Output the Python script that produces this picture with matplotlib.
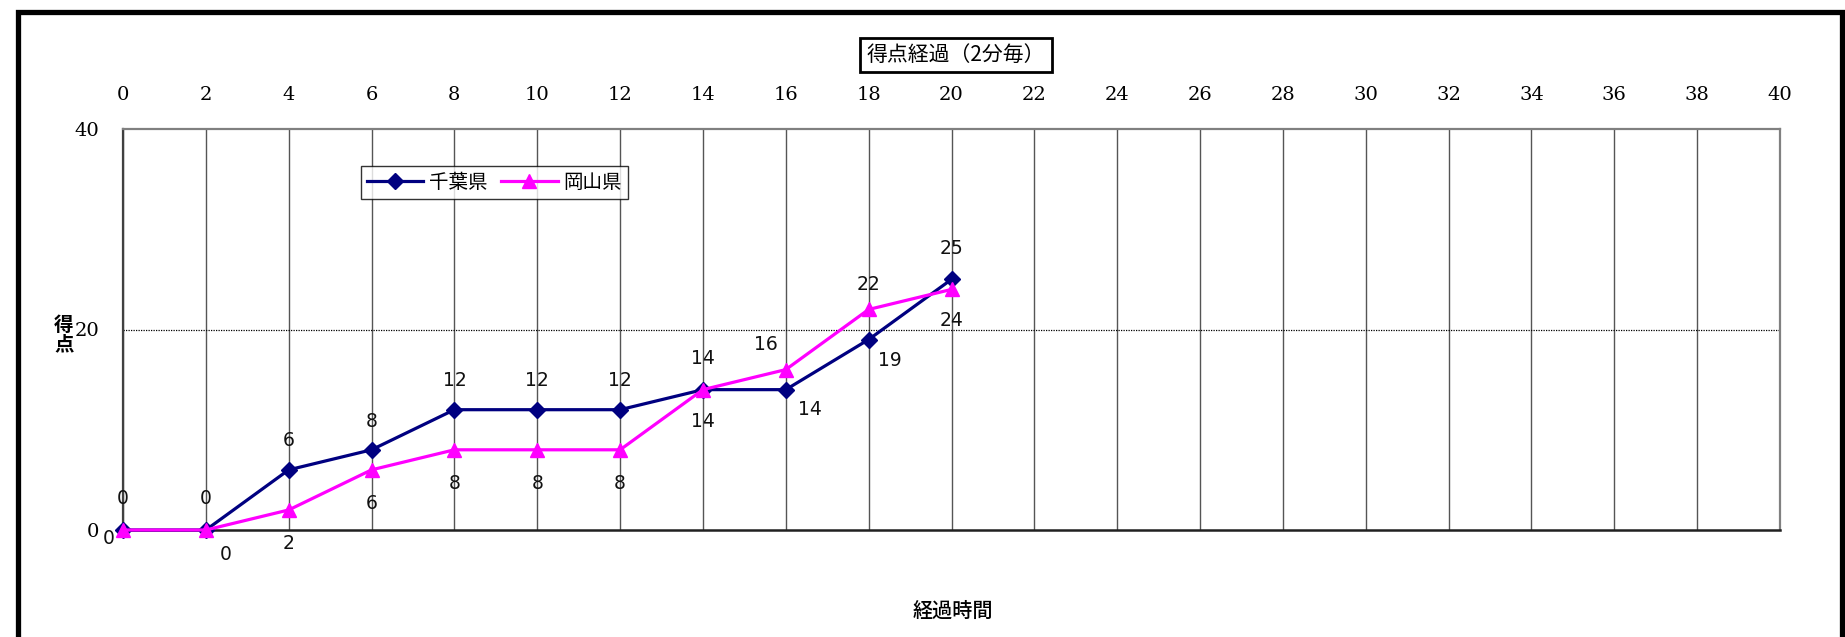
import matplotlib
matplotlib.use("Agg")
import matplotlib.pyplot as plt
from matplotlib.patches import Rectangle

# ---- data ----
minutes = [0, 2, 4, 6, 8, 10, 12, 14, 16, 18, 20]
chiba = [0, 0, 6, 8, 12, 12, 12, 14, 14, 19, 25]
okayama = [0, 0, 2, 6, 8, 8, 8, 14, 16, 22, 24]
series_names = ["千葉県", "岡山県"]
x_ticks = list(range(0, 41, 2))
y_ticks = [0, 20, 40]
title = "得点経過（2分毎）"
x_label = "経過時間"
y_label = "得\n点"

# label offsets (pixels) for data labels
chiba_off = [(0, 31), (0, 31), (0, 29), (0, 28), (0, 29), (0, 29), (0, 29),
             (0, 31), (24, -20), (21, -21), (0, 31)]
okayama_off = [(-14, -9), (20, -24), (0, -34), (0, -34), (0, -34), (0, -34),
               (0, -34), (0, -32), (-20, 25), (0, 25), (0, -31)]

CJK = ["Noto Sans CJK JP", "DejaVu Sans"]
W, H = 1845, 637
fig = plt.figure(figsize=(W / 100, H / 100), dpi=100)
fig.patch.set_facecolor("white")

# outer frame
fig.patches.append(Rectangle((18 / W, -0.2), (1842 - 18) / W, 1.2 - 12 / H,
                             transform=fig.transFigure, fill=False,
                             edgecolor="black", linewidth=3.8))

ax = fig.add_axes([123 / W, 1 - 530 / H, (1780 - 123) / W, (530 - 129) / H])
ax.set_xlim(0, 40)
ax.set_ylim(0, 40)

# grid
for xv in x_ticks:
    ax.axvline(xv, color="#555555", linewidth=1.0, zorder=1)
ax.axhline(20, color="black", linewidth=0.9, linestyle=(0, (1, 1)), zorder=1)

l1, = ax.plot(minutes, chiba, color="#000080", linewidth=2.3, marker="D",
              markersize=8.5, zorder=4, clip_on=False)
l2, = ax.plot(minutes, okayama, color="#FF00FF", linewidth=2.3, marker="^",
              markersize=10.5, zorder=5, clip_on=False)

lab_font = dict(family="DejaVu Sans", fontsize=13.5, color="#111111")
for xv, yv, off in zip(minutes, chiba, chiba_off):
    ax.annotate(str(yv), (xv, yv), xytext=off, textcoords="offset pixels",
                ha="center", va="center", zorder=6, **lab_font)
for xv, yv, off in zip(minutes, okayama, okayama_off):
    ax.annotate(str(yv), (xv, yv), xytext=off, textcoords="offset pixels",
                ha="center", va="center", zorder=6, **lab_font)

# axes styling
ax.xaxis.tick_top()
ax.set_xticks(x_ticks)
ax.set_yticks(y_ticks)
ax.tick_params(axis="x", length=0, pad=18, labelsize=14)
ax.tick_params(axis="y", length=0, pad=17, labelsize=14)
for lab in ax.get_xticklabels() + ax.get_yticklabels():
    lab.set_family("DejaVu Serif")
for side, col, lw in [("top", "#808080", 1.6), ("right", "#808080", 1.6),
                      ("left", "#404040", 1.6), ("bottom", "#202020", 1.8)]:
    ax.spines[side].set_color(col)
    ax.spines[side].set_linewidth(lw)

# title box
fig.text(956 / W, 1 - 55 / H, title, ha="center", va="center",
         fontsize=15, family=CJK,
         bbox=dict(boxstyle="square,pad=0.3", facecolor="white",
                   edgecolor="black", linewidth=2))
# axis labels
fig.text(953 / W, 1 - 611 / H, x_label, ha="center", va="center",
         fontsize=14.5, family=CJK, fontweight="medium")
fig.text(64 / W, 1 - 335 / H, y_label, ha="center", va="center",
         fontsize=14, family=CJK, fontweight="bold", linespacing=1.05)

leg = fig.legend([l1, l2], series_names, loc="upper left",
                 bbox_to_anchor=(361 / W, 1 - 166 / H), ncol=2,
                 prop={"family": CJK, "size": 14}, frameon=True,
                 fancybox=False, edgecolor="black", borderaxespad=0,
                 handlelength=2.9, handletextpad=0.3, columnspacing=0.7,
                 borderpad=0.3, markerscale=0.9)
leg.get_frame().set_linewidth(1.0)

fig.savefig("out.png", dpi=100)
